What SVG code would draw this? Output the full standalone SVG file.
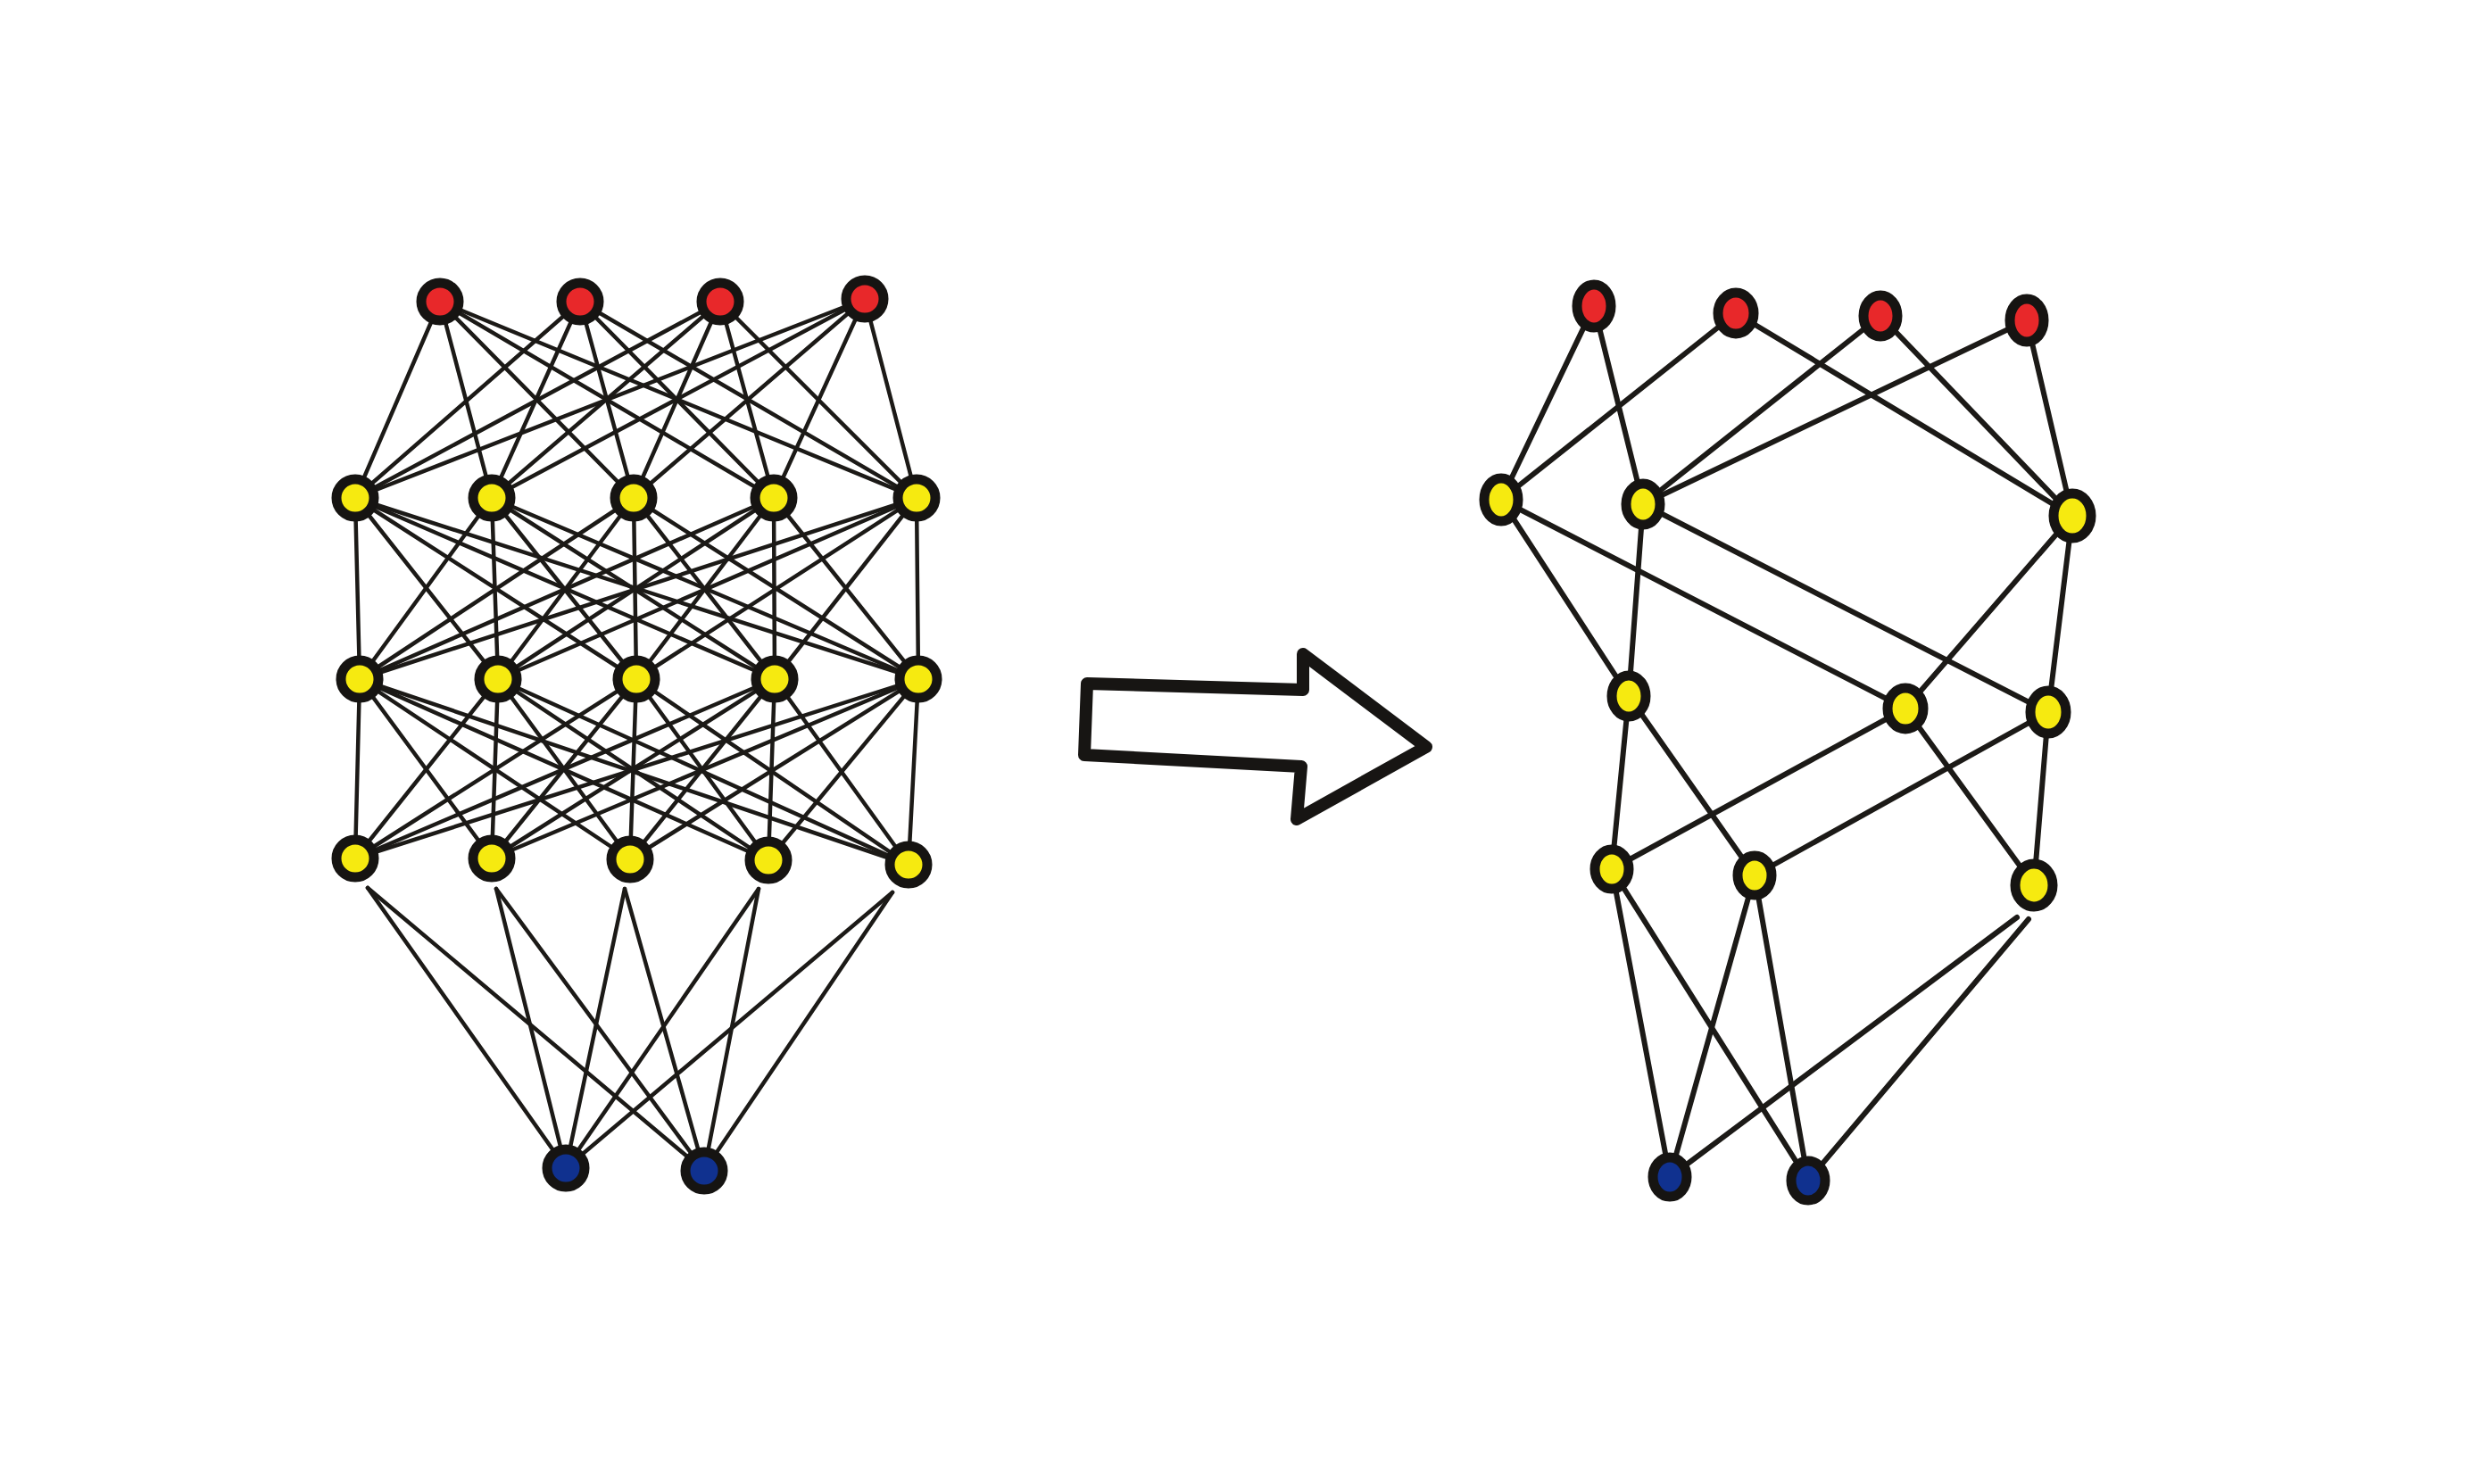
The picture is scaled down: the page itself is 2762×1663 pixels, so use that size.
<svg xmlns="http://www.w3.org/2000/svg" width="2762" height="1663" viewBox="0 0 2762 1663">
<style>
.bg{fill:#ffffff}
.e{stroke:#1c1a17;stroke-width:4.5;stroke-linecap:round}
.e2{stroke:#1c1a17;stroke-width:6;stroke-linecap:round}
.n{stroke:#161412;stroke-width:11}
.red{fill:#e8282a}
.yel{fill:#f6ea10}
.blu{fill:#10318f}
.arrow{fill:none;stroke:#171513;stroke-width:14;stroke-linejoin:round;stroke-linecap:round}
</style>
<rect class="bg" x="0" y="0" width="2762" height="1663"/>
<g id="connectors">
<g id="left-connectors">
<line class="e" x1="493" y1="338" x2="398" y2="558"/><line class="e" x1="493" y1="338" x2="551" y2="558"/><line class="e" x1="493" y1="338" x2="710" y2="558"/><line class="e" x1="493" y1="338" x2="867" y2="558"/><line class="e" x1="493" y1="338" x2="1027" y2="558"/>
<line class="e" x1="650" y1="338" x2="398" y2="558"/><line class="e" x1="650" y1="338" x2="551" y2="558"/><line class="e" x1="650" y1="338" x2="710" y2="558"/><line class="e" x1="650" y1="338" x2="867" y2="558"/><line class="e" x1="650" y1="338" x2="1027" y2="558"/>
<line class="e" x1="807" y1="338" x2="398" y2="558"/><line class="e" x1="807" y1="338" x2="551" y2="558"/><line class="e" x1="807" y1="338" x2="710" y2="558"/><line class="e" x1="807" y1="338" x2="867" y2="558"/><line class="e" x1="807" y1="338" x2="1027" y2="558"/>
<line class="e" x1="969" y1="335" x2="398" y2="558"/><line class="e" x1="969" y1="335" x2="551" y2="558"/><line class="e" x1="969" y1="335" x2="710" y2="558"/><line class="e" x1="969" y1="335" x2="867" y2="558"/><line class="e" x1="969" y1="335" x2="1027" y2="558"/>
<line class="e" x1="398" y1="558" x2="403" y2="761"/><line class="e" x1="398" y1="558" x2="558" y2="761"/><line class="e" x1="398" y1="558" x2="713" y2="761"/><line class="e" x1="398" y1="558" x2="868" y2="761"/><line class="e" x1="398" y1="558" x2="1029" y2="761"/>
<line class="e" x1="551" y1="558" x2="403" y2="761"/><line class="e" x1="551" y1="558" x2="558" y2="761"/><line class="e" x1="551" y1="558" x2="713" y2="761"/><line class="e" x1="551" y1="558" x2="868" y2="761"/><line class="e" x1="551" y1="558" x2="1029" y2="761"/>
<line class="e" x1="710" y1="558" x2="403" y2="761"/><line class="e" x1="710" y1="558" x2="558" y2="761"/><line class="e" x1="710" y1="558" x2="713" y2="761"/><line class="e" x1="710" y1="558" x2="868" y2="761"/><line class="e" x1="710" y1="558" x2="1029" y2="761"/>
<line class="e" x1="867" y1="558" x2="403" y2="761"/><line class="e" x1="867" y1="558" x2="558" y2="761"/><line class="e" x1="867" y1="558" x2="713" y2="761"/><line class="e" x1="867" y1="558" x2="868" y2="761"/><line class="e" x1="867" y1="558" x2="1029" y2="761"/>
<line class="e" x1="1027" y1="558" x2="403" y2="761"/><line class="e" x1="1027" y1="558" x2="558" y2="761"/><line class="e" x1="1027" y1="558" x2="713" y2="761"/><line class="e" x1="1027" y1="558" x2="868" y2="761"/><line class="e" x1="1027" y1="558" x2="1029" y2="761"/>
<line class="e" x1="403" y1="761" x2="398" y2="962"/><line class="e" x1="403" y1="761" x2="551" y2="962"/><line class="e" x1="403" y1="761" x2="706" y2="963"/><line class="e" x1="403" y1="761" x2="861" y2="964"/><line class="e" x1="403" y1="761" x2="1018" y2="969"/>
<line class="e" x1="558" y1="761" x2="398" y2="962"/><line class="e" x1="558" y1="761" x2="551" y2="962"/><line class="e" x1="558" y1="761" x2="706" y2="963"/><line class="e" x1="558" y1="761" x2="861" y2="964"/><line class="e" x1="558" y1="761" x2="1018" y2="969"/>
<line class="e" x1="713" y1="761" x2="398" y2="962"/><line class="e" x1="713" y1="761" x2="551" y2="962"/><line class="e" x1="713" y1="761" x2="706" y2="963"/><line class="e" x1="713" y1="761" x2="861" y2="964"/><line class="e" x1="713" y1="761" x2="1018" y2="969"/>
<line class="e" x1="868" y1="761" x2="398" y2="962"/><line class="e" x1="868" y1="761" x2="551" y2="962"/><line class="e" x1="868" y1="761" x2="706" y2="963"/><line class="e" x1="868" y1="761" x2="861" y2="964"/><line class="e" x1="868" y1="761" x2="1018" y2="969"/>
<line class="e" x1="1029" y1="761" x2="398" y2="962"/><line class="e" x1="1029" y1="761" x2="551" y2="962"/><line class="e" x1="1029" y1="761" x2="706" y2="963"/><line class="e" x1="1029" y1="761" x2="861" y2="964"/><line class="e" x1="1029" y1="761" x2="1018" y2="969"/>
<line class="e" x1="412" y1="995" x2="634" y2="1309"/><line class="e" x1="412" y1="995" x2="789" y2="1312"/>
<line class="e" x1="556" y1="996" x2="634" y2="1309"/><line class="e" x1="556" y1="996" x2="789" y2="1312"/>
<line class="e" x1="700" y1="996" x2="634" y2="1309"/><line class="e" x1="700" y1="996" x2="789" y2="1312"/>
<line class="e" x1="850" y1="996" x2="634" y2="1309"/><line class="e" x1="850" y1="996" x2="789" y2="1312"/>
<line class="e" x1="1000" y1="1000" x2="634" y2="1309"/><line class="e" x1="1000" y1="1000" x2="789" y2="1312"/>
</g>
<g id="right-connectors">
<line class="e2" x1="1786" y1="343" x2="1682" y2="560"/><line class="e2" x1="1786" y1="343" x2="1841" y2="565"/>
<line class="e2" x1="1945" y1="351" x2="1682" y2="560"/><line class="e2" x1="1945" y1="351" x2="2322" y2="578"/>
<line class="e2" x1="2107" y1="354" x2="1841" y2="565"/><line class="e2" x1="2107" y1="354" x2="2322" y2="578"/>
<line class="e2" x1="2271" y1="359" x2="1841" y2="565"/><line class="e2" x1="2271" y1="359" x2="2322" y2="578"/>
<line class="e2" x1="1682" y1="560" x2="1825" y2="780"/><line class="e2" x1="1682" y1="560" x2="2135" y2="794"/>
<line class="e2" x1="1841" y1="565" x2="1825" y2="780"/><line class="e2" x1="1841" y1="565" x2="2295" y2="798"/>
<line class="e2" x1="2322" y1="578" x2="2135" y2="794"/><line class="e2" x1="2322" y1="578" x2="2295" y2="798"/>
<line class="e2" x1="1825" y1="780" x2="1806" y2="974"/><line class="e2" x1="1825" y1="780" x2="1966" y2="981"/>
<line class="e2" x1="2135" y1="794" x2="1806" y2="974"/><line class="e2" x1="2135" y1="794" x2="2279" y2="992"/>
<line class="e2" x1="2295" y1="798" x2="1966" y2="981"/><line class="e2" x1="2295" y1="798" x2="2279" y2="992"/>
<line class="e2" x1="1806" y1="974" x2="1871" y2="1319"/><line class="e2" x1="1806" y1="974" x2="2026" y2="1323"/>
<line class="e2" x1="1966" y1="981" x2="1871" y2="1319"/><line class="e2" x1="1966" y1="981" x2="2026" y2="1323"/>
<line class="e2" x1="2260" y1="1028" x2="1871" y2="1319"/><line class="e2" x1="2273" y1="1030" x2="2026" y2="1323"/>
</g>
</g>
<g id="arrow">
<path class="arrow" d="M1218,766 L1460,773 L1460,733 L1598,837 L1453,918 L1458,859 L1215,846 Z"/>
</g>
<g id="left-network">
<g id="l-out1"><circle class="n red" cx="493" cy="338" r="21"/></g>
<g id="l-out2"><circle class="n red" cx="650" cy="338" r="21"/></g>
<g id="l-out3"><circle class="n red" cx="807" cy="338" r="21"/></g>
<g id="l-out4"><circle class="n red" cx="969" cy="335" r="21"/></g>
<g id="l-h1-1"><circle class="n yel" cx="398" cy="558" r="21"/></g>
<g id="l-h1-2"><circle class="n yel" cx="551" cy="558" r="21"/></g>
<g id="l-h1-3"><circle class="n yel" cx="710" cy="558" r="21"/></g>
<g id="l-h1-4"><circle class="n yel" cx="867" cy="558" r="21"/></g>
<g id="l-h1-5"><circle class="n yel" cx="1027" cy="558" r="21"/></g>
<g id="l-h2-1"><circle class="n yel" cx="403" cy="761" r="21"/></g>
<g id="l-h2-2"><circle class="n yel" cx="558" cy="761" r="21"/></g>
<g id="l-h2-3"><circle class="n yel" cx="713" cy="761" r="21"/></g>
<g id="l-h2-4"><circle class="n yel" cx="868" cy="761" r="21"/></g>
<g id="l-h2-5"><circle class="n yel" cx="1029" cy="761" r="21"/></g>
<g id="l-h3-1"><circle class="n yel" cx="398" cy="962" r="21"/></g>
<g id="l-h3-2"><circle class="n yel" cx="551" cy="962" r="21"/></g>
<g id="l-h3-3"><circle class="n yel" cx="706" cy="963" r="21"/></g>
<g id="l-h3-4"><circle class="n yel" cx="861" cy="964" r="21"/></g>
<g id="l-h3-5"><circle class="n yel" cx="1018" cy="969" r="21"/></g>
<g id="l-in1"><circle class="n blu" cx="634" cy="1309" r="21"/></g>
<g id="l-in2"><circle class="n blu" cx="789" cy="1312" r="21"/></g>
</g>
<g id="right-network">
<g id="r-out1"><ellipse class="n red" cx="1786" cy="343" rx="19" ry="24"/></g>
<g id="r-out2"><ellipse class="n red" cx="1945" cy="351" rx="20" ry="23"/></g>
<g id="r-out3"><ellipse class="n red" cx="2107" cy="354" rx="19" ry="23"/></g>
<g id="r-out4"><ellipse class="n red" cx="2271" cy="359" rx="19" ry="24"/></g>
<g id="r-h1-1"><ellipse class="n yel" cx="1682" cy="560" rx="19" ry="24"/></g>
<g id="r-h1-2"><ellipse class="n yel" cx="1841" cy="565" rx="19" ry="23"/></g>
<g id="r-h1-3"><ellipse class="n yel" cx="2322" cy="578" rx="21" ry="25"/></g>
<g id="r-h2-1"><ellipse class="n yel" cx="1825" cy="780" rx="19" ry="23"/></g>
<g id="r-h2-2"><ellipse class="n yel" cx="2135" cy="794" rx="20" ry="23"/></g>
<g id="r-h2-3"><ellipse class="n yel" cx="2295" cy="798" rx="20" ry="24"/></g>
<g id="r-h3-1"><ellipse class="n yel" cx="1806" cy="974" rx="19" ry="22"/></g>
<g id="r-h3-2"><ellipse class="n yel" cx="1966" cy="981" rx="19" ry="22"/></g>
<g id="r-h3-3"><ellipse class="n yel" cx="2279" cy="992" rx="21" ry="24"/></g>
<g id="r-in1"><ellipse class="n blu" cx="1871" cy="1319" rx="19" ry="22"/></g>
<g id="r-in2"><ellipse class="n blu" cx="2026" cy="1323" rx="19" ry="22"/></g>
</g>
</svg>
